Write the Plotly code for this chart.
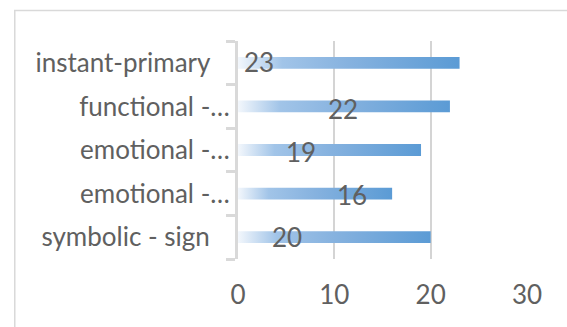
import plotly.graph_objects as go

# Data (top to bottom as shown)
categories = ["instant-primary", "functional -…", "emotional -…", "emotional -…", "symbolic - sign"]
values = [23, 22, 19, 16, 20]
x_ticks = [0, 10, 20, 30]

# Style / placement settings
label_x = [2.2, 10.9, 6.5, 11.8, 5.1]      # manual data-label anchors (data units)
label_yshift = [1, -3, -1.5, -1, 0]
pad = {"instant-primary": "\u00a0\u00a0\u00a0", "symbolic - sign": "\u00a0\u00a0\u00a0"}
half = 0.135
FONT = "Lato"
TXT = "#606060"
GRID = "#d4d4d4"
AXL = "#d9d9d9"
scale = [[0, "#f3f7fc"], [0.2, "#a1c4e8"], [0.5, "#86b2df"], [1, "#5b9bd5"]]

n = len(categories)
ypos = [n - 1 - i for i in range(n)]

fig = go.Figure()
for cat, v, y in zip(categories, values, ypos):
    fig.add_trace(go.Scatter(
        x=[0, v, v, 0, 0],
        y=[y - half, y - half, y + half, y + half, y - half],
        mode="lines", line=dict(width=0), fill="toself",
        fillgradient=dict(type="horizontal", colorscale=scale),
        hoverinfo="skip", showlegend=False, name=cat,
    ))

for v, y, lx, ys in zip(values, ypos, label_x, label_yshift):
    fig.add_annotation(x=lx, y=y, text=str(v), showarrow=False, yshift=ys,
                       font=dict(family=FONT, size=26, color=TXT))

# outer chart border
fig.add_shape(type="rect", xref="paper", yref="paper",
              x0=(13.5 - 237.5) / 290, x1=1.3, y0=-0.5, y1=1 + (41 - 10.5) / 218,
              line=dict(color=AXL, width=1.5), fillcolor="rgba(0,0,0,0)", layer="below")

fig.update_layout(
    width=567, height=327,
    margin=dict(l=237.5, r=39.5, t=41, b=68, autoexpand=False),
    paper_bgcolor="white", plot_bgcolor="white",
    font=dict(family=FONT, size=26, color=TXT),
    showlegend=False,
    xaxis=dict(range=[0, 30], tickvals=x_ticks, ticktext=[str(t) for t in x_ticks],
               showgrid=True, gridcolor=GRID, gridwidth=1.5, zeroline=False,
               showline=False, ticks="", ticklabelstandoff=18,
               tickfont=dict(family=FONT, size=26, color=TXT), fixedrange=True),
    yaxis=dict(range=[-0.5, n - 0.5], tickvals=ypos,
               ticktext=[c + pad.get(c, "") for c in categories],
               showgrid=False, zeroline=False, showline=True, linecolor=AXL, linewidth=3,
               ticks="", ticklabelstandoff=0,
               minor=dict(tickvals=[k - 0.5 for k in range(n + 1)], ticks="outside",
                          ticklen=9, tickwidth=3, tickcolor=AXL, showgrid=False),
               tickfont=dict(family=FONT, size=26, color=TXT), fixedrange=True),
)

fig.write_html("out.html")
